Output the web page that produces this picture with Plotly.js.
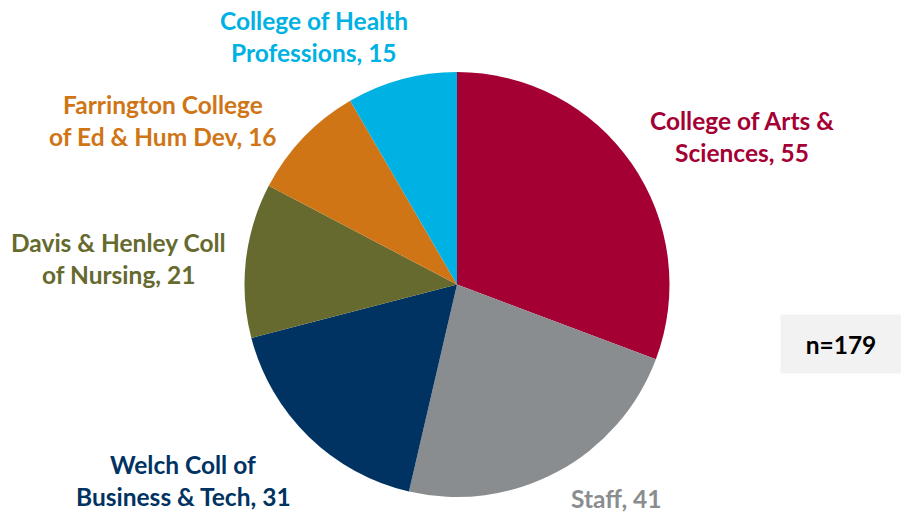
<!DOCTYPE html>
<html><head><meta charset="utf-8">
<script src="https://cdn.plot.ly/plotly-3.0.1.min.js"></script>
<style>html,body{margin:0;padding:0;background:#fff}#c{width:901px;height:512px}</style>
</head><body><div id="c"></div>
<script>
const categories = ["College of Arts & Sciences", "Staff", "Welch Coll of Business & Tech", "Davis & Henley Coll of Nursing", "Farrington College of Ed & Hum Dev", "College of Health Professions"];
const labelLines = [["College of Arts &", "Sciences"], ["Staff"], ["Welch Coll of", "Business & Tech"], ["Davis & Henley Coll", "of Nursing"], ["Farrington College", "of Ed & Hum Dev"], ["College of Health", "Professions"]];
const values = [55, 41, 31, 21, 16, 15];
const colors = ["#A50034", "#8A8D8F", "#003262", "#666A2E", "#D07516", "#00B2E3"];
const total = values.reduce((a, b) => a + b, 0);

const W = 901, H = 512;
// first-line centre of each label (px)
const labelPos = [[742, 120], [616, 498], [183, 464], [118, 242], [163, 104], [314, 20]];
const lineGap = 32;
const font = "Lato, 'Open Sans', sans-serif";

const annotations = [];
categories.forEach((c, i) => {
  const lines = labelLines[i].slice();
  lines[lines.length - 1] = lines[lines.length - 1] + ", " + values[i];
  lines.forEach((t, k) => {
    annotations.push({
      xref: "paper", yref: "paper",
      x: labelPos[i][0] / W, y: 1 - (labelPos[i][1] + k * lineGap) / H,
      xanchor: "center", yanchor: "middle",
      text: t, showarrow: false, align: "center",
      font: {family: font, size: 24.5, color: colors[i], weight: "bold"}
    });
  });
});
annotations.push({
  xref: "paper", yref: "paper", x: 841 / W, y: 1 - 344 / H,
  xanchor: "center", yanchor: "middle", showarrow: false,
  text: "n=" + total, bgcolor: "#F2F2F2", width: 118, height: 56,
  font: {family: font, size: 24.5, color: "#000", weight: "bold"}
});

Plotly.newPlot("c", [{
  type: "pie", labels: categories, values: values, sort: false,
  direction: "clockwise", rotation: 0,
  marker: {colors: colors, line: {width: 0}},
  textinfo: "none", hoverinfo: "label+value",
  domain: {x: [244 / W, 670 / W], y: [1 - 497 / H, 1 - 72 / H]}
}], {
  width: W, height: H, margin: {l: 0, r: 0, t: 0, b: 0},
  showlegend: false, paper_bgcolor: "#fff",
  annotations: annotations
}, {displayModeBar: false, staticPlot: true});
</script></body></html>
